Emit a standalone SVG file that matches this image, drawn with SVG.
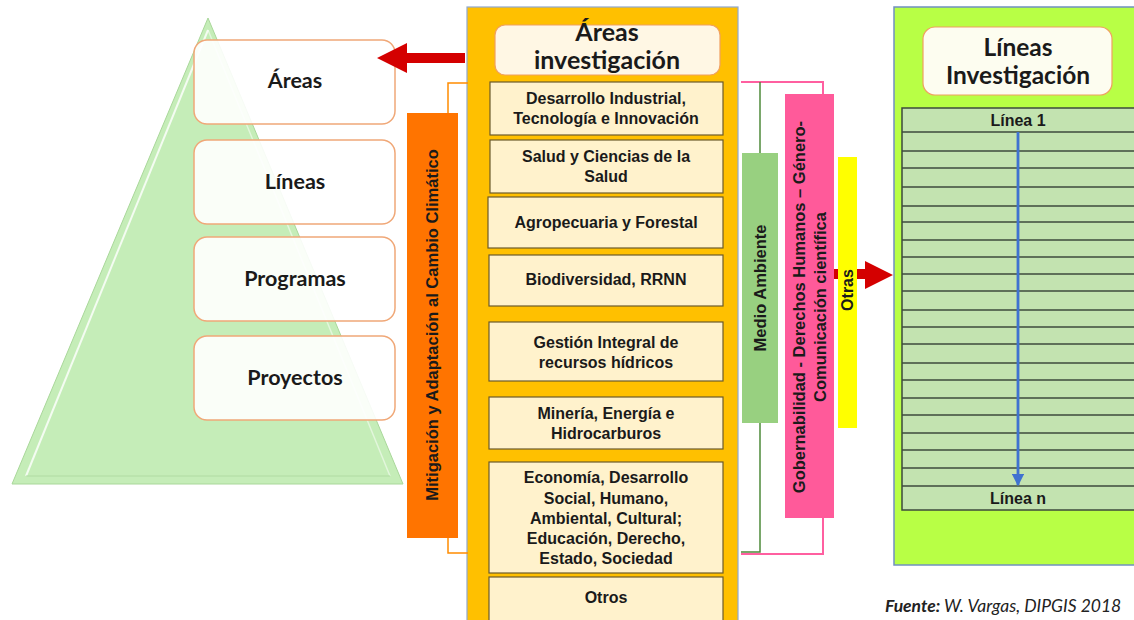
<svg xmlns="http://www.w3.org/2000/svg" width="1134" height="620" viewBox="0 0 1134 620">
<defs>
<style>
.cal{font-family:Lato,"Open Sans","Liberation Sans",sans-serif;font-weight:bold;fill:#1a1a1a;text-anchor:middle}
.ar{font-family:"Liberation Sans",Arial,sans-serif;font-weight:bold;fill:#1a1a1a;text-anchor:middle}
.lvl{fill:#ffffff;fill-opacity:0.9;stroke:#F0A878;stroke-width:1.5}
.item{fill:#FFF2CC;stroke:#6b5a2a;stroke-width:1.2}
.row{stroke:#3c4a3c;stroke-width:1.5}
</style>
<marker id="blueHead" viewBox="0 0 10 10" refX="9" refY="5" markerWidth="4.5" markerHeight="4.5" orient="auto">
<path d="M0,0 L10,5 L0,10 z" fill="#3F72D0"/>
</marker>
</defs>
<rect width="1134" height="620" fill="#ffffff"/>

<g id="pyramid">
<polygon points="208,18 403,484 12,484" fill="#C5EDB8" stroke="#A9D79A" stroke-width="1"/>
<polyline points="26,476 208,30" fill="none" stroke="#ffffff" stroke-width="2" stroke-opacity="0.8"/>
<polyline points="208,30 390,476" fill="none" stroke="#ffffff" stroke-width="1.5" stroke-opacity="0.5"/>
<line x1="26" y1="476" x2="390" y2="476" stroke="#B0DBA2" stroke-width="1"/>
</g>

<g id="level-areas">
<rect class="lvl" x="194" y="40" width="201" height="84" rx="13"/>
<text class="cal" x="295" y="88" font-size="21.5">Áreas</text>
</g>
<g id="level-lineas">
<rect class="lvl" x="194" y="140" width="201" height="84" rx="13"/>
<text class="cal" x="295" y="189" font-size="21.5">Líneas</text>
</g>
<g id="level-programas">
<rect class="lvl" x="194" y="237" width="201" height="84" rx="13"/>
<text class="cal" x="295" y="286" font-size="21.5">Programas</text>
</g>
<g id="level-proyectos">
<rect class="lvl" x="194" y="336" width="201" height="84" rx="13"/>
<text class="cal" x="295" y="385" font-size="21.5">Proyectos</text>
</g>

<g id="mitigacion">
<rect x="407" y="113" width="51" height="425" fill="#FF7400"/>
<text class="ar" font-size="16.5" transform="translate(438,325) rotate(-90)">Mitigación y Adaptación al Cambio Climático</text>
</g>

<g id="areas-investigacion">
<rect x="467" y="7" width="271" height="620" fill="#FFC000" stroke="#8FA8D0" stroke-width="1.2"/>
<rect x="495" y="25" width="225" height="50" rx="10" fill="#FFF7E4" stroke="#F0A060" stroke-width="1.2"/>
<text class="cal" x="607" y="41" font-size="25">Áreas</text>
<text class="cal" x="607" y="69" font-size="25">investigación</text>
</g>

<g id="item-desarrollo">
<rect class="item" x="490" y="82" width="233" height="53"/>
<text class="ar" font-size="16" x="606" y="104">Desarrollo Industrial,</text>
<text class="ar" font-size="16" x="606" y="124">Tecnología e Innovación</text>
</g>
<g id="item-salud">
<rect class="item" x="490" y="140" width="233" height="53"/>
<text class="ar" font-size="16" x="606" y="162">Salud y Ciencias de la</text>
<text class="ar" font-size="16" x="606" y="182">Salud</text>
</g>
<g id="item-agro">
<rect class="item" x="488" y="197" width="235" height="51"/>
<text class="ar" font-size="16" x="606" y="228">Agropecuaria y Forestal</text>
</g>
<g id="item-bio">
<rect class="item" x="489" y="255" width="234" height="51"/>
<text class="ar" font-size="16" x="606" y="285">Biodiversidad, RRNN</text>
</g>
<g id="item-gestion">
<rect class="item" x="489" y="322" width="234" height="59"/>
<text class="ar" font-size="16" x="606" y="348">Gestión Integral de</text>
<text class="ar" font-size="16" x="606" y="368">recursos hídricos</text>
</g>
<g id="item-mineria">
<rect class="item" x="489" y="397" width="234" height="52"/>
<text class="ar" font-size="16" x="606" y="419">Minería, Energía e</text>
<text class="ar" font-size="16" x="606" y="439">Hidrocarburos</text>
</g>
<g id="item-economia">
<rect class="item" x="489" y="462" width="234" height="111"/>
<text class="ar" font-size="16" x="606" y="483">Economía, Desarrollo</text>
<text class="ar" font-size="16" x="606" y="504">Social, Humano,</text>
<text class="ar" font-size="16" x="606" y="524">Ambiental, Cultural;</text>
<text class="ar" font-size="16" x="606" y="544">Educación, Derecho,</text>
<text class="ar" font-size="16" x="606" y="564">Estado, Sociedad</text>
</g>
<g id="item-otros">
<rect class="item" x="489" y="577" width="234" height="50"/>
<text class="ar" font-size="16" x="606" y="603">Otros</text>
</g>

<g id="medio-ambiente">
<rect x="742" y="153" width="36" height="270" fill="#98D080"/>
<text class="ar" font-size="16.5" transform="translate(766,288) rotate(-90)">Medio Ambiente</text>
</g>

<g id="gobernabilidad">
<rect x="785" y="94" width="49" height="424" fill="#FF5A9A"/>
<text class="ar" font-size="16.5" transform="translate(805,307) rotate(-90)">Gobernabilidad  - Derechos Humanos – Género-</text>
<text class="ar" font-size="16.5" transform="translate(826,307) rotate(-90)">Comunicación científica</text>
</g>

<g id="lineas-investigacion">
<rect x="894" y="7" width="250" height="558" fill="#B8FF45" stroke="#7090C0" stroke-width="1.5"/>
<rect x="923" y="27" width="189" height="68" rx="12" fill="#FDFDF0" stroke="#F0A060" stroke-width="1.2"/>
<text class="cal" x="1018" y="56" font-size="24.5">Líneas</text>
<text class="cal" x="1018" y="84" font-size="24.5">Investigación</text>
<rect x="902" y="108" width="240" height="402" fill="#C3E3B0" stroke="#3c4a3c" stroke-width="1.5"/>
<g class="row">
<line x1="902" y1="132" x2="1134" y2="132"/>
<line x1="902" y1="151" x2="1134" y2="151"/>
<line x1="902" y1="168" x2="1134" y2="168"/>
<line x1="902" y1="187" x2="1134" y2="187"/>
<line x1="902" y1="206" x2="1134" y2="206"/>
<line x1="902" y1="222" x2="1134" y2="222"/>
<line x1="902" y1="240" x2="1134" y2="240"/>
<line x1="902" y1="257" x2="1134" y2="257"/>
<line x1="902" y1="274" x2="1134" y2="274"/>
<line x1="902" y1="291" x2="1134" y2="291"/>
<line x1="902" y1="310" x2="1134" y2="310"/>
<line x1="902" y1="327" x2="1134" y2="327"/>
<line x1="902" y1="344" x2="1134" y2="344"/>
<line x1="902" y1="363" x2="1134" y2="363"/>
<line x1="902" y1="380" x2="1134" y2="380"/>
<line x1="902" y1="398" x2="1134" y2="398"/>
<line x1="902" y1="415" x2="1134" y2="415"/>
<line x1="902" y1="433" x2="1134" y2="433"/>
<line x1="902" y1="450" x2="1134" y2="450"/>
<line x1="902" y1="468" x2="1134" y2="468"/>
<line x1="902" y1="486" x2="1134" y2="486"/>
</g>
<text class="ar" font-size="16" x="1018" y="126">Línea 1</text>
<text class="ar" font-size="16" x="1018" y="504">Línea n</text>
</g>

<g id="connectors">
<polygon points="465,53 407,53 407,43 377,58 407,73 407,63 465,63" fill="#D40000"/>
<polyline points="468,83 448,83 448,113" fill="none" stroke="#FF8C00" stroke-width="1.5"/>
<polyline points="448,538 448,553 468,553" fill="none" stroke="#FF8C00" stroke-width="1.5"/>
<polyline points="741,82 823,82 823,94" fill="none" stroke="#FF5FA0" stroke-width="2"/>
<line x1="760" y1="82" x2="760" y2="153" stroke="#4E8A3A" stroke-width="1.5"/>
<polyline points="741,552 760,552 760,423" fill="none" stroke="#4E8A3A" stroke-width="1.5"/>
<polyline points="741,554 823,554 823,518" fill="none" stroke="#FF5FA0" stroke-width="2"/>
<polygon points="834,269 865,269 865,261 893,275 865,289 865,279 834,279" fill="#D40000"/>
<line x1="1018" y1="132" x2="1018" y2="485" stroke="#3F72D0" stroke-width="2.8" marker-end="url(#blueHead)"/>
</g>

<g id="otras">
<rect x="838" y="157" width="19" height="271" fill="#FFFF00"/>
<text class="ar" font-size="16" transform="translate(853,290) rotate(-90)">Otras</text>
</g>

<g id="fuente">
<text x="885" y="612" font-family="Lato,'Open Sans','Liberation Sans',sans-serif" font-style="italic" font-size="17.5" fill="#222"><tspan font-weight="bold">Fuente:</tspan> W. Vargas, DIPGIS 2018</text>
</g>
</svg>
